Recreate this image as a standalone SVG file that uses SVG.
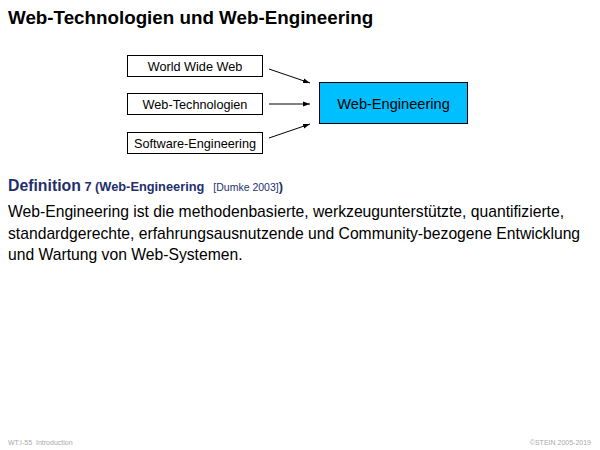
<svg xmlns="http://www.w3.org/2000/svg" width="600" height="450" viewBox="0 0 600 450">
<defs>
<style>
text{font-family:"Liberation Sans",Arial,sans-serif}
.box{fill:#fff;stroke:#000;stroke-width:1}
.lbl{font-size:12.7px;text-anchor:middle;fill:#000}
.conn{stroke:#000;stroke-width:1;fill:none;marker-end:url(#ah)}
.body{font-size:15.7px;fill:#000}
.def{fill:#1f2f6e;font-weight:bold}
.foot{font-size:7px;fill:#aaa}
</style>
<marker id="ah" viewBox="0 0 10 10" refX="10" refY="5" markerWidth="7" markerHeight="7" orient="auto" markerUnits="userSpaceOnUse">
<path d="M0,1.5 L10,5 L0,8.5 z" fill="#000"/>
</marker>
</defs>
<rect width="600" height="450" fill="#fff"/>
<text x="8" y="24" font-size="18.8" font-weight="bold">Web-Technologien und Web-Engineering</text>
<g id="node-www"><rect class="box" x="127.5" y="55.5" width="135" height="21"/><text class="lbl" x="195" y="70.5">World Wide Web</text></g>
<g id="node-wt"><rect class="box" x="127.5" y="93.5" width="135" height="21"/><text class="lbl" x="195" y="108.5">Web-Technologien</text></g>
<g id="node-se"><rect class="box" x="127.5" y="132.5" width="135" height="21"/><text class="lbl" x="195" y="147.5">Software-Engineering</text></g>
<g id="node-we"><rect x="319.5" y="82.5" width="148" height="41" fill="#00bfff" stroke="#000"/><text x="393.5" y="108.5" font-size="14.6" text-anchor="middle">Web-Engineering</text></g>
<g id="connectors">
<line class="conn" x1="269" y1="69" x2="310" y2="83"/>
<line class="conn" x1="269" y1="104" x2="310" y2="104"/>
<line class="conn" x1="269" y1="138" x2="310" y2="124"/>
</g>
<text x="8" y="191"><tspan class="def" font-size="15.8">Definition</tspan><tspan class="def" font-size="12.8"> 7 (Web-Engineering</tspan><tspan fill="#1f2f6e" font-size="10.5" dx="9">[Dumke 2003]</tspan><tspan class="def" font-size="12.8">)</tspan></text>
<text class="body" x="8" y="217">Web-Engineering ist die methodenbasierte, werkzeugunterstützte, quantifizierte,</text>
<text class="body" x="8" y="238.5">standardgerechte, erfahrungsausnutzende und Community-bezogene Entwicklung</text>
<text class="body" x="8" y="260">und Wartung von Web-Systemen.</text>
<text class="foot" x="8" y="445">WT:I-55</text>
<text class="foot" x="36" y="445">Introduction</text>
<text class="foot" x="591" y="445" text-anchor="end">©STEIN 2005-2019</text>
</svg>
